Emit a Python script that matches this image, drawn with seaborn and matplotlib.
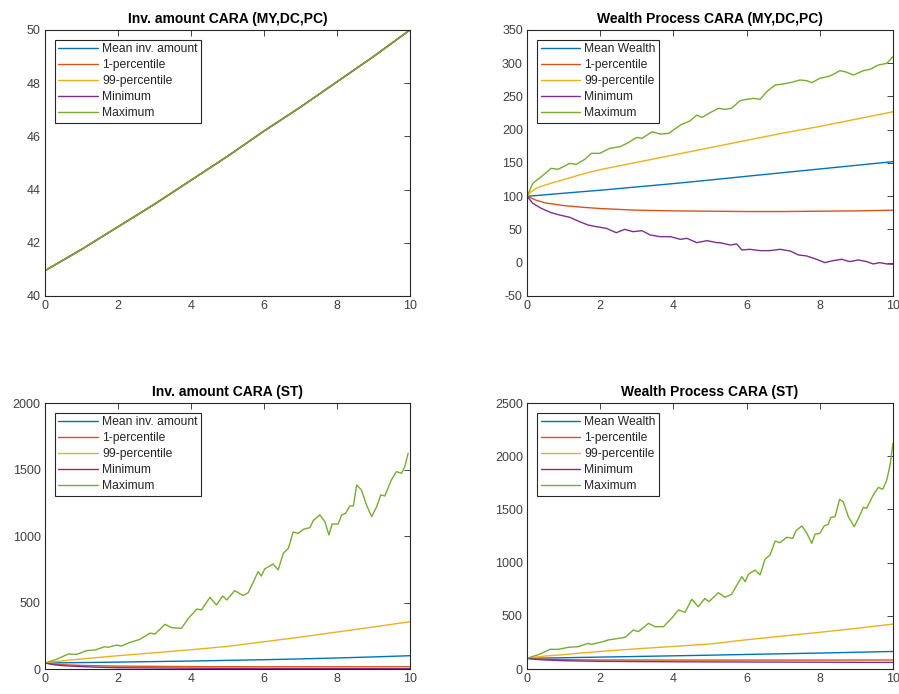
import numpy as np
import pandas as pd
import matplotlib
matplotlib.use("Agg")
import matplotlib.pyplot as plt
import seaborn as sns

# ---------------- data ----------------
# Panel 1: Inv. amount CARA (MY,DC,PC) -- all five series coincide
t_inv_my = [0, 1, 2, 3, 4, 5, 6, 7, 8, 9, 10]
inv_my = [40.95, 41.75, 42.6, 43.45, 44.35, 45.25, 46.2, 47.1, 48.05, 49.0, 50.0]

# Panel 2: Wealth Process CARA (MY,DC,PC)
t_w_my = [0, 0.25, 0.5, 1, 1.5, 2, 3, 4, 5, 6, 7, 8, 9, 10]
w_my_mean = [100, 101, 102.2, 104.5, 106.8, 109, 114, 119, 124.4, 130, 135.5, 141, 146.5, 152]
w_my_p1 = [100, 94, 90, 86, 83.5, 81.5, 79, 78, 77.5, 77, 77, 77.5, 78, 79]
w_my_p99 = [102, 112, 117, 125, 133, 140, 151, 162, 173, 184, 195, 205, 216, 227]
t_w_my_min = [0, 0.16, 0.39, 0.66, 0.89, 1.17, 1.44, 1.67, 1.9, 2.17, 2.44, 2.67, 2.9, 3.14,
              3.37, 3.64, 3.92, 4.19, 4.37, 4.64, 4.92, 5.19, 5.27, 5.55, 5.73, 5.87, 6.09,
              6.37, 6.64, 6.91, 7.19, 7.42, 7.64, 7.91, 8.14, 8.37, 8.6, 8.82, 9.05, 9.28,
              9.46, 9.64, 9.83, 10.0]
w_my_min = [100, 89.3, 81.8, 75.3, 71.8, 68.3, 61.7, 56.7, 54.2, 51.7, 45.2, 50.2, 46.7, 48.2,
            41.7, 39.2, 39.2, 35.2, 36.7, 30.2, 33.2, 30.2, 30.2, 26.7, 28.2, 19.2, 20.2,
            18.2, 18.2, 20.2, 17.7, 11.7, 10.2, 5.2, 0.2, 3.2, 5.2, 1.7, 4.2, 1.7,
            -1.8, 0.2, -1.8, -2.3]
t_w_my_max = [0, 0.16, 0.39, 0.66, 0.85, 1.17, 1.35, 1.58, 1.76, 1.99, 2.26, 2.54, 2.73, 3.0,
              3.14, 3.42, 3.64, 3.87, 4.19, 4.46, 4.64, 4.78, 5.0, 5.23, 5.41, 5.59, 5.82,
              6.0, 6.19, 6.37, 6.55, 6.78, 7.0, 7.19, 7.46, 7.64, 7.78, 8.0, 8.28, 8.55,
              8.69, 8.92, 9.19, 9.37, 9.6, 9.83, 10.0]
w_my_max = [100, 119.4, 129.4, 142, 140.5, 149.5, 148, 155.5, 164.5, 164.5, 172, 174.5, 179.5, 188.5,
            187, 197, 193.5, 194.5, 207, 213.5, 222, 218.5, 225.5, 232.2, 230.7, 232.2, 243.7,
            245.7, 247.2, 245.7, 257.2, 267.3, 268.8, 270.8, 274.8, 273.8, 270.8, 277.3, 280.8, 288.8,
            287.3, 282.3, 288.8, 290.8, 297.3, 299.8, 309.8]

# Panel 3: Inv. amount CARA (ST)
t_inv_st = [0, 0.25, 0.5, 1, 1.5, 2, 3, 4, 5, 6, 7, 8, 9, 10]
inv_st_mean = [45, 46, 47, 48.5, 50, 52, 56, 60, 65, 70, 76, 83, 91, 100]
inv_st_p1 = [45, 37, 32, 27, 24, 22, 20, 18, 17.5, 17, 17, 17, 17, 17]
inv_st_p99 = [45, 55, 62, 75, 88, 100, 122, 145, 170, 205, 240, 278, 316, 356]
inv_st_min = [45, 32, 25, 18, 13, 10, 8, 6, 5, 4, 3.5, 3, 2.5, 2]
t_inv_st_max = [0, 0.32, 0.64, 0.87, 1.14, 1.37, 1.64, 1.73, 1.96, 2.1, 2.33, 2.6, 2.88, 3.01,
                3.29, 3.47, 3.74, 3.93, 4.16, 4.29, 4.52, 4.7, 4.87, 4.98, 5.2, 5.43, 5.57,
                5.84, 5.93, 6.02, 6.25, 6.39, 6.53, 6.67, 6.8, 6.94, 7.08, 7.26, 7.35, 7.53,
                7.67, 7.78, 7.87, 8.03, 8.13, 8.24, 8.35, 8.45, 8.54, 8.67, 8.81, 8.95, 9.09,
                9.2, 9.31, 9.49, 9.63, 9.77, 9.86, 9.95]
inv_st_max = [45, 73, 113, 110, 138, 143, 168, 163, 180, 173, 200, 223, 270, 262,
              336, 311, 306, 381, 451, 444, 539, 481, 549, 519, 589, 552, 574,
              732, 699, 752, 790, 745, 870, 908, 1030, 1020, 1050, 1063, 1116, 1158,
              1108, 1008, 1090, 1090, 1158, 1171, 1226, 1226, 1384, 1346, 1233, 1146, 1221,
              1309, 1301, 1421, 1484, 1472, 1522, 1622]

# Panel 4: Wealth Process CARA (ST)
t_w_st = [0, 0.25, 0.5, 1, 1.5, 2, 3, 4, 5, 6, 7, 8, 9, 10]
w_st_mean = [100, 101.5, 103, 106, 109, 112, 118, 124, 130, 137, 143.5, 150, 157.5, 165]
w_st_p1 = [100, 95, 92, 88, 86, 85, 84.5, 84, 84, 84, 84, 84, 84.5, 85]
w_st_p99 = [100, 113, 122, 135, 151, 165, 190, 212, 235, 275, 310, 345, 382, 422]
w_st_min = [100, 90, 85, 78, 75, 72, 70, 68, 67, 66, 65, 64, 63, 62]
t_w_st_max = [0, 0.36, 0.63, 0.86, 1.13, 1.4, 1.67, 1.77, 2.04, 2.22, 2.5, 2.68, 2.91, 3.04,
              3.32, 3.5, 3.73, 3.95, 4.14, 4.32, 4.5, 4.68, 4.86, 4.97, 5.23, 5.41, 5.59,
              5.87, 5.96, 6.05, 6.23, 6.37, 6.5, 6.64, 6.78, 6.91, 7.1, 7.26, 7.35, 7.51,
              7.64, 7.78, 7.87, 8.0, 8.12, 8.23, 8.3, 8.42, 8.54, 8.64, 8.78, 8.94, 9.08,
              9.19, 9.28, 9.46, 9.6, 9.72, 9.83, 9.92, 10.0]
w_st_max = [100, 141, 185, 185, 204, 210, 241, 232, 254, 273, 288, 298, 367, 351,
            429, 398, 398, 476, 555, 533, 655, 586, 664, 633, 717, 674, 702,
            868, 821, 890, 930, 884, 1031, 1071, 1203, 1187, 1238, 1228, 1300, 1344,
            1281, 1181, 1266, 1275, 1344, 1360, 1425, 1432, 1595, 1573, 1432, 1338, 1432,
            1520, 1510, 1635, 1707, 1689, 1776, 1917, 2121]

labels_inv = ["Mean inv. amount", "1-percentile", "99-percentile", "Minimum", "Maximum"]
labels_w = ["Mean Wealth", "1-percentile", "99-percentile", "Minimum", "Maximum"]
titles = ["Inv. amount CARA (MY,DC,PC)", "Wealth Process CARA (MY,DC,PC)",
          "Inv. amount CARA (ST)", "Wealth Process CARA (ST)"]
xticks = [0, 2, 4, 6, 8, 10]
yticks_list = [[40, 42, 44, 46, 48, 50],
               [-50, 0, 50, 100, 150, 200, 250, 300, 350],
               [0, 500, 1000, 1500, 2000],
               [0, 500, 1000, 1500, 2000, 2500]]

# ---------------- style ----------------
sns.set_theme(style="white")
plt.rcParams["font.family"] = ["Liberation Sans", "DejaVu Sans"]
plt.rcParams["axes.unicode_minus"] = False
colors = ["#0072BD", "#D95319", "#EDB120", "#7E2F8E", "#77AC30"]

fig = plt.figure(figsize=(8.99, 6.94), dpi=100)
positions = [[0.0500, 0.5735, 0.4060, 0.3833],
             [0.5862, 0.5735, 0.4071, 0.3833],
             [0.0500, 0.0360, 0.4060, 0.3833],
             [0.5862, 0.0360, 0.4071, 0.3833]]
axes = [fig.add_axes(p) for p in positions]

panels = [
    (labels_inv, [(t_inv_my, inv_my), (t_inv_my, inv_my), (t_inv_my, inv_my),
                  (t_inv_my, inv_my), (t_inv_my, inv_my)]),
    (labels_w, [(t_w_my, w_my_mean), (t_w_my, w_my_p1), (t_w_my, w_my_p99),
                (t_w_my_min, w_my_min), (t_w_my_max, w_my_max)]),
    (labels_inv, [(t_inv_st, inv_st_mean), (t_inv_st, inv_st_p1), (t_inv_st, inv_st_p99),
                  (t_inv_st, inv_st_min), (t_inv_st_max, inv_st_max)]),
    (labels_w, [(t_w_st, w_st_mean), (t_w_st, w_st_p1), (t_w_st, w_st_p99),
                (t_w_st, w_st_min), (t_w_st_max, w_st_max)]),
]

edge = "#262626"
for i, (ax, (labels, series)) in enumerate(zip(axes, panels)):
    for (tx, ty), lab, col in zip(series, labels, colors):
        df = pd.DataFrame({"t": tx, "v": ty})
        sns.lineplot(data=df, x="t", y="v", ax=ax, color=col, label=lab,
                     linewidth=1.0, estimator=None, sort=False)
    ax.set_xlim(0, 10)
    yt = yticks_list[i]
    ax.set_ylim(yt[0], yt[-1])
    ax.set_xticks(xticks)
    ax.set_yticks(yt)
    ax.set_xlabel("")
    ax.set_ylabel("")
    ax.set_title(titles[i], fontsize=10, fontweight="bold", color="black", pad=5)
    ax.tick_params(direction="in", top=True, right=True, length=4, width=0.6,
                   color=edge, labelsize=9, labelcolor="#404040", pad=3)
    for s in ax.spines.values():
        s.set_color(edge)
        s.set_linewidth(0.8)
        s.set_visible(True)
    leg = ax.legend(loc="upper left", bbox_to_anchor=(0.027, 0.963), fontsize=8.7,
                    frameon=True, fancybox=False, framealpha=1, edgecolor=edge,
                    handlelength=3.3, handletextpad=0.3, labelspacing=0.33,
                    borderpad=0.3, borderaxespad=0.0)
    leg.get_frame().set_linewidth(0.8)

fig.savefig("out.png", dpi=100)
